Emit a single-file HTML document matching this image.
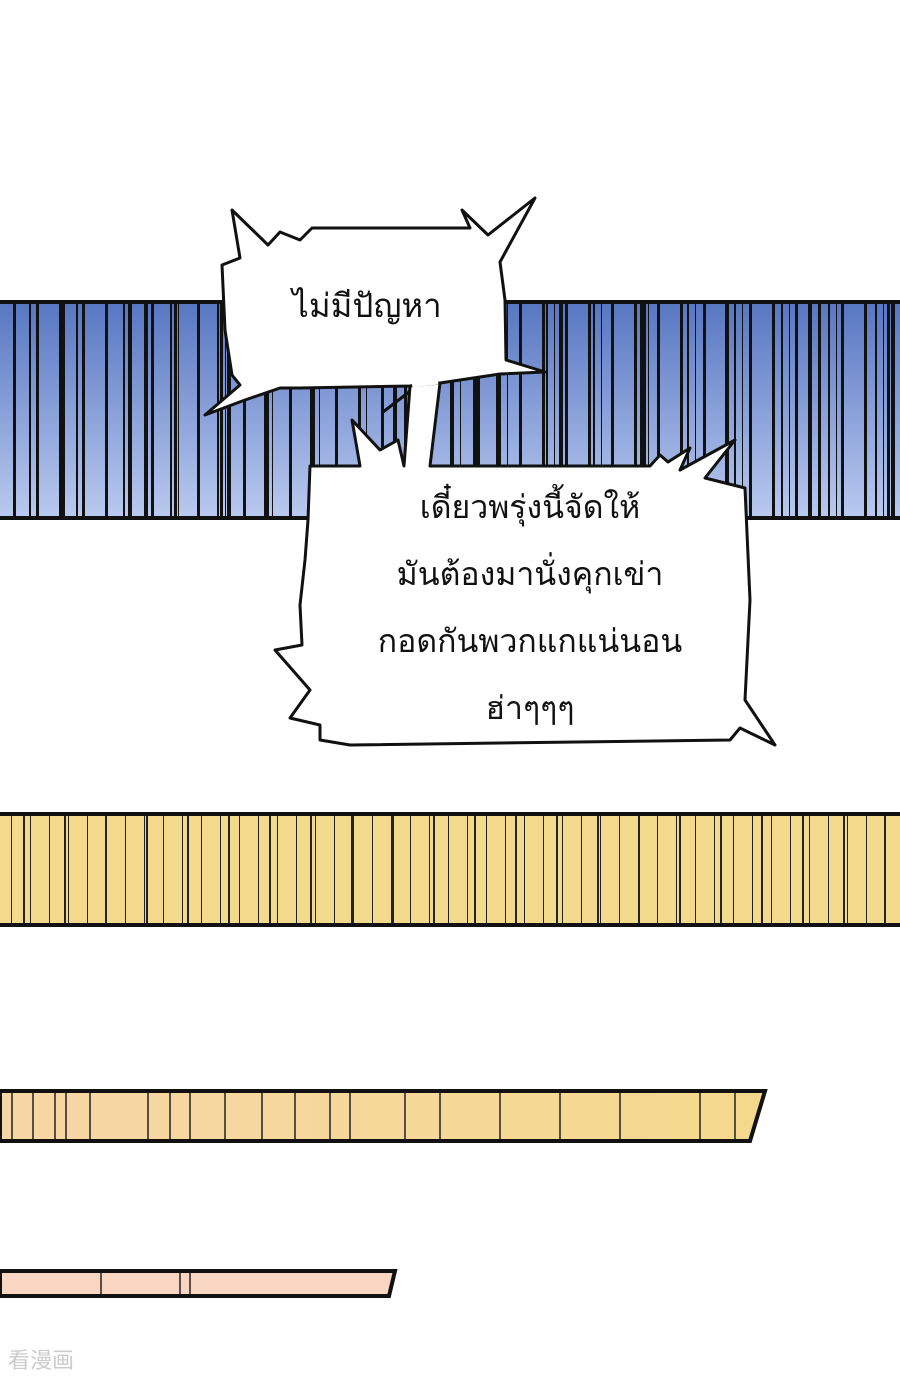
<!DOCTYPE html>
<html><head><meta charset="utf-8"><style>
html,body{margin:0;padding:0;background:#fff;width:900px;height:1379px;overflow:hidden;position:relative}
.band{position:absolute;left:0;box-sizing:border-box;border-top:4px solid #111;border-bottom:4px solid #111}
#blue{top:300px;width:900px;height:220px;background:
repeating-linear-gradient(90deg,transparent 0 13px,#111 13px 16px,transparent 16px 23px),
repeating-linear-gradient(90deg,transparent 0 29px,#111 29px 31px,transparent 31px 37px,#111 37px 38px,transparent 38px 47px),
repeating-linear-gradient(90deg,transparent 0 61px,#111 61px 65px,transparent 65px 83px),
linear-gradient(#5877c2,#b9c9ef)}
#yel{top:812px;width:900px;height:115px;background:
repeating-linear-gradient(90deg,transparent 0 11px,#222 11px 12px,transparent 12px 19px),
repeating-linear-gradient(90deg,transparent 0 23px,#222 23px 25px,transparent 25px 41px),
#f3d98c}
.t{position:absolute;font-family:"Liberation Sans","DejaVu Sans",sans-serif;color:#111;font-size:32px;text-align:center;line-height:67px}
</style></head><body>
<div id="blue" class="band"></div>
<div id="yel" class="band"></div>
<svg width="900" height="1379" style="position:absolute;left:0;top:0">
<defs><linearGradient id="g3" x1="0" x2="1"><stop offset="0" stop-color="#f7d6a6"/><stop offset="1" stop-color="#f4d98c"/></linearGradient></defs>
<polygon points="0,1091 765,1091 750,1141 0,1141" fill="url(#g3)" stroke="#111" stroke-width="4"/>
<g stroke="#222" stroke-width="1.5">
<line x1="12" y1="1093" x2="12" y2="1139"/><line x1="33" y1="1093" x2="33" y2="1139"/><line x1="55" y1="1093" x2="55" y2="1139"/><line x1="66" y1="1093" x2="66" y2="1139"/><line x1="90" y1="1093" x2="90" y2="1139"/><line x1="148" y1="1093" x2="148" y2="1139"/><line x1="170" y1="1093" x2="170" y2="1139"/><line x1="190" y1="1093" x2="190" y2="1139"/><line x1="225" y1="1093" x2="225" y2="1139"/><line x1="262" y1="1093" x2="262" y2="1139"/><line x1="295" y1="1093" x2="295" y2="1139"/><line x1="330" y1="1093" x2="330" y2="1139"/><line x1="350" y1="1093" x2="350" y2="1139"/><line x1="405" y1="1093" x2="405" y2="1139"/><line x1="440" y1="1093" x2="440" y2="1139"/><line x1="500" y1="1093" x2="500" y2="1139"/><line x1="560" y1="1093" x2="560" y2="1139"/><line x1="620" y1="1093" x2="620" y2="1139"/><line x1="700" y1="1093" x2="700" y2="1139"/><line x1="735" y1="1093" x2="735" y2="1139"/>
</g>
<polygon points="0,1271 395,1271 389,1296 0,1296" fill="#f9d6c1" stroke="#111" stroke-width="4"/>
<line x1="101" y1="1273" x2="101" y2="1294" stroke="#222" stroke-width="1.5"/>
<line x1="180" y1="1273" x2="180" y2="1294" stroke="#222" stroke-width="1.5"/>
<line x1="190" y1="1273" x2="190" y2="1294" stroke="#222" stroke-width="1.5"/>
<!-- bubble 1 -->
<path d="M232,210 L268,245 L280,232 L300,240 L312,228 L470,228 L462,210 L488,235 L535,198 L500,262 L505,300 L506,360 L545,372 L500,374 L440,383 L410,386 L300,388 L280,388 L245,400 L205,415 L240,385 L232,375 L225,330 L222,265 L240,258 Z" fill="#fff" stroke="#111" stroke-width="3" stroke-linejoin="round"/>
<!-- bubble 2 with tail -->
<path d="M310,466 L360,466 L352,420 L380,450 L398,440 L404,466 L410,386 L440,383 L430,466 L650,466 L660,455 L668,462 L690,448 L680,470 L735,440 L705,478 L745,488 L750,600 L748,640 L745,700 L775,745 L740,728 L730,740 L350,745 L320,740 L320,725 L290,718 L310,690 L275,650 L302,645 L300,605 L305,560 L308,520 Z" fill="#ffffff" stroke="#111" stroke-width="3" stroke-linejoin="round"/>
<path d="M412,384 L438,381" stroke="#fff" stroke-width="7"/>
<path d="M383,412 L409,392" stroke="#111" stroke-width="3" fill="none"/>
</svg>
<div class="t" style="left:222px;top:272px;width:290px;font-size:33px">ไม่มีปัญหา</div>
<div class="t" style="left:305px;top:474px;width:450px">เดี๋ยวพรุ่งนี้จัดให้<br>มันต้องมานั่งคุกเข่า<br>กอดกันพวกแกแน่นอน<br>ฮ่าๆๆๆ</div>
<div style="position:absolute;left:8px;top:1343px;font-family:'Noto Sans CJK SC',sans-serif;font-size:22px;color:#ccc">看漫画</div>
</body></html>
